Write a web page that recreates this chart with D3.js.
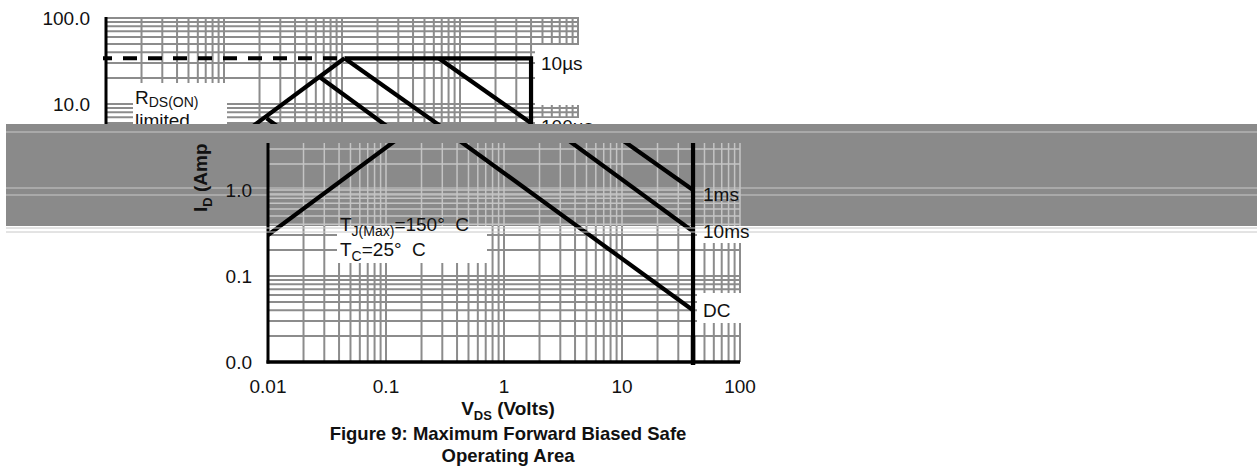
<!DOCTYPE html>
<html><head><meta charset="utf-8">
<script src="https://cdn.jsdelivr.net/npm/d3@7"></script>
<style>html,body{margin:0;padding:0;background:#fff;}svg{display:block;font-family:"Liberation Sans",Arial,sans-serif;}</style>
</head><body>
<svg id="c" width="1257" height="468"></svg>
<script>
// ---- data ----
const xTickValues = [0.01, 0.1, 1, 10, 100];
const xTickLabels = ["0.01", "0.1", "1", "10", "100"];
const yTickValues = [0.01, 0.1, 1, 10, 100];
const yTickLabels = ["0.0", "0.1", "1.0", "10.0", "100.0"];
const rdsV = [0.01, 1.05];   const rdsI = [0.3, 34];
const idmV = [0.01, 1.05];   const idmI = [34, 34];
const us10V = [1.05, 40, 40]; const us10I = [34, 34, 0.01];
const us100V = [6.6, 40];    const us100I = [34, 6.0];
const ms1V = [1.05, 40];     const ms1I = [34, 1.0];
const ms10V = [0.65, 40];    const ms10I = [20.5, 0.33];
const dcV = [0.23, 40];      const dcI = [6.8, 0.04];
const curveLabels = ["10µs", "100µs", "1ms", "10ms", "DC"];
const curveLabelI = [25, 4.6, 0.75, 0.28, 0.033];

const SPLIT = 124, BAND_END = 226, SHIFT = -162;
const svg = d3.select("#c");
const x = d3.scaleLog().domain([0.01, 100]).range([268, 740]);
const y = d3.scaleLog().domain([0.01, 100]).range([362, 18]);
const minors = [];
[0.01, 0.1, 1, 10].forEach(d => { for (let m = 1; m <= 9; m++) minors.push(+(d * m).toPrecision(3)); });
minors.push(100);

const defs = svg.append("defs");
function clip(id, x0, y0, w, h) { defs.append("clipPath").attr("id", id).append("rect").attr("x", x0).attr("y", y0).attr("width", w).attr("height", h); }
clip("topClip", 0, 0, 1257, SPLIT);
clip("lowClip", 0, BAND_END, 1257, 468 - BAND_END);
clip("bandClip", 0, 143, 1257, BAND_END - 143);
clip("labClip", 0, 143, 1257, 325);

function sub(t, main, s, fs, dy) {
  t.append("tspan").text(main);
  t.append("tspan").attr("font-size", fs).attr("dy", dy).text(s);
  return t.append("tspan").attr("dy", -dy);
}

function drawChart(g, band) {
  const gridCol = band ? "#c4c4c4" : "#8c8c8c";
  const grid = g.append("g").attr("stroke", gridCol).attr("stroke-width", band ? 1.5 : 2);
  grid.selectAll("line.v").data(minors).join("line").attr("class", "v")
    .attr("x1", d => x(d)).attr("x2", d => x(d)).attr("y1", y(100) - 1).attr("y2", y(0.01));
  grid.selectAll("line.h").data(minors).join("line").attr("class", "h")
    .attr("y1", d => y(d)).attr("y2", d => y(d)).attr("x1", x(0.01)).attr("x2", x(100));
  if (!band) {
    const boxes = [[295, 83, 94, 50], [697, 45, 50, 60], [697, 118, 50, 22], [337, 210, 150, 53],
                   [697, 180, 50, 32], [697, 218, 50, 25], [697, 293, 50, 30]];
    g.append("g").selectAll("rect").data(boxes).join("rect")
      .attr("x", d => d[0]).attr("y", d => d[1]).attr("width", d => d[2]).attr("height", d => d[3]).attr("fill", "#fff");
  }
  g.append("line").attr("x1", x(0.01)).attr("x2", x(0.01)).attr("y1", y(100) - 1).attr("y2", y(0.01) + 1.5).attr("stroke", "#000").attr("stroke-width", 3);
  g.append("line").attr("x1", x(0.01) - 1.5).attr("x2", x(100)).attr("y1", y(0.01)).attr("y2", y(0.01)).attr("stroke", "#000").attr("stroke-width", 3.5);
  const line = d3.line().x(d => x(d[0])).y(d => y(d[1]));
  const zip = (a, b) => a.map((v, i) => [v, b[i]]);
  g.append("path").attr("d", line([[x.invert(265), idmI[0]], [idmV[1], idmI[1]]])).attr("fill", "none")
    .attr("stroke", "#000").attr("stroke-width", 4).attr("stroke-dasharray", "14,11").attr("stroke-dashoffset", 5);
  [[rdsV, rdsI], [us10V, us10I], [us100V, us100I], [ms1V, ms1I], [ms10V, ms10I], [dcV, dcI]].forEach(c => {
    g.append("path").attr("d", line(zip(c[0], c[1]))).attr("fill", "none").attr("stroke", "#000")
      .attr("stroke-width", 4.2).attr("stroke-linejoin", "miter").attr("stroke-linecap", "butt");
  });
  g.append("line").attr("x1", x(40)).attr("x2", x(40)).attr("y1", y(0.02)).attr("y2", y(0.01) + 3).attr("stroke", "#000").attr("stroke-width", 4.5);
}

// texts: upper (shifted) ones drawn in the upper layer, the rest once
function drawTexts(g, upper) {
  const keep = yy => upper ? yy < SPLIT + 12 : yy >= SPLIT + 12;
  const yl = yTickValues.map((v, i) => ({ v, t: yTickLabels[i] })).filter(d => keep(y(d.v)));
  g.append("g").selectAll("text").data(yl).join("text")
    .attr("x", x(0.01) - 16).attr("y", d => y(d.v) + 7).attr("text-anchor", "end").attr("font-size", 19)
    .attr("fill", "#111").text(d => d.t);
  const cl = curveLabels.map((t, i) => ({ t, v: curveLabelI[i] })).filter(d => keep(y(d.v)));
  g.append("g").selectAll("text").data(cl).join("text")
    .attr("x", 703).attr("y", d => y(d.v)).attr("font-size", 19).attr("fill", "#111").text(d => d.t);
  if (upper) {
    let t = g.append("text").attr("x", 297).attr("y", 104).attr("font-size", 19).attr("fill", "#111");
    sub(t, "R", "DS(ON)", 14, 3);
    g.append("text").attr("x", 297).attr("y", 127).attr("font-size", 19).attr("fill", "#111").text("limited");
    return;
  }
  g.append("g").selectAll("text").data(xTickValues).join("text")
    .attr("x", d => x(d)).attr("y", 393).attr("text-anchor", "middle").attr("font-size", 19)
    .attr("fill", "#111").text((d, i) => xTickLabels[i]);
  let t = g.append("text").attr("x", 340).attr("y", 231).attr("font-size", 19).attr("fill", "#111");
  sub(t, "T", "J(Max)", 14, 5).text("=150°\u00a0\u00a0C");
  t = g.append("text").attr("x", 340).attr("y", 256).attr("font-size", 19).attr("fill", "#111");
  sub(t, "T", "C", 14, 5).text("=25°\u00a0\u00a0C");
  t = g.append("text").attr("x", 508).attr("y", 415).attr("text-anchor", "middle").attr("font-size", 19).attr("font-weight", "bold").attr("fill", "#111");
  sub(t, "V", "DS", 13, 5).text(" (Volts)");
  g.append("text").attr("x", 508).attr("y", 440).attr("text-anchor", "middle").attr("font-size", 18.5).attr("font-weight", "bold").attr("fill", "#111")
    .text("Figure 9: Maximum Forward Biased Safe");
  g.append("text").attr("x", 508).attr("y", 462).attr("text-anchor", "middle").attr("font-size", 18.5).attr("font-weight", "bold").attr("fill", "#111")
    .text("Operating Area");
  t = g.append("g").attr("clip-path", "url(#labClip)").append("text").attr("transform", "translate(207,212) rotate(-90)")
    .attr("font-size", 19).attr("font-weight", "bold").attr("fill", "#111");
  sub(t, "I", "D", 13, 5).text(" (Amps)");
}

// upper part (shifted)
const upperG = svg.append("g").attr("clip-path", "url(#topClip)").append("g").attr("transform", `translate(${SHIFT},0)`);
drawChart(upperG, false);
drawTexts(upperG, true);
// lower part
drawChart(svg.append("g").attr("clip-path", "url(#lowClip)"), false);
// band
svg.append("rect").attr("x", 6).attr("y", SPLIT).attr("width", 1251).attr("height", BAND_END - SPLIT).attr("fill", "#8a8a8a");
const bandLines = [132, 188, 195];
svg.append("g").selectAll("line").data(bandLines).join("line")
  .attr("x1", 6).attr("x2", 1257).attr("y1", d => d).attr("y2", d => d).attr("stroke", "#c8c8c8").attr("stroke-width", 1.2);
drawChart(svg.append("g").attr("clip-path", "url(#bandClip)"), true);
svg.append("g").selectAll("line").data([228, 232]).join("line")
  .attr("x1", 6).attr("x2", 1257).attr("y1", d => d).attr("y2", d => d).attr("stroke", "#c8c8c8").attr("stroke-width", 1);
drawTexts(svg.append("g"), false);
</script>
</body></html>
